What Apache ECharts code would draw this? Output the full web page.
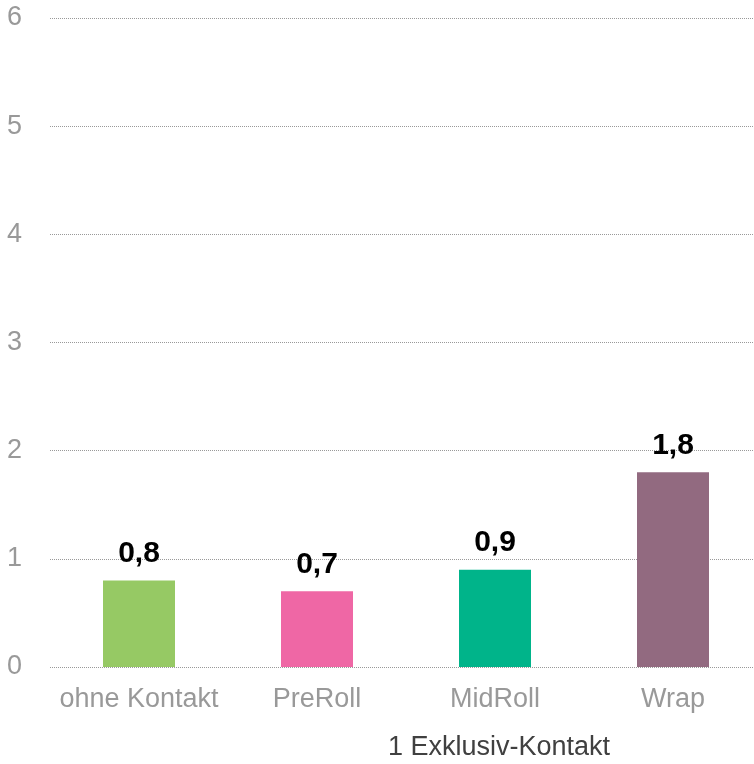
<!DOCTYPE html>
<html>
<head>
<meta charset="utf-8">
<script src="https://cdn.jsdelivr.net/npm/echarts@6/dist/echarts.min.js"></script>
<style>
  html, body { margin: 0; padding: 0; background: #fff; overflow: hidden; }
  /* Diagramm etwas breiter als das Fenster, rechter Rand wird abgeschnitten */
  #chart { width: 762px; height: 764px; }
</style>
</head>
<body>
<div id="chart"></div>
<script>
  // Kategorien und Werte
  var categories = ['ohne Kontakt', 'PreRoll', 'MidRoll', 'Wrap'];
  var values = [0.8, 0.7, 0.9, 1.8];
  var barColors = ['#96c964', '#ef67a5', '#00b48a', '#926a80'];
  var groupLabel = '1 Exklusiv-Kontakt';

  var myChart = echarts.init(document.getElementById('chart'));
  var option = {
    animation: false,
    textStyle: { fontFamily: 'Liberation Sans, Arial, sans-serif' },
    grid: { left: 50, right: 0, top: 18, bottom: 97 },
    xAxis: {
      type: 'category',
      data: categories,
      axisLine: { show: false },
      axisTick: { show: false },
      axisLabel: { color: '#999999', fontSize: 27, margin: 19, interval: 0 }
    },
    yAxis: {
      type: 'value',
      min: 0,
      max: 6,
      interval: 1,
      axisLine: { show: false },
      axisTick: { show: false },
      axisLabel: { color: '#999999', fontSize: 27, margin: 28, align: 'right' },
      splitLine: { lineStyle: { type: 'dotted', color: '#999999', width: 1 } }
    },
    graphic: [{
      type: 'text',
      left: 388,
      top: 734,
      style: { text: groupLabel, fill: '#404040', fontSize: 27, fontFamily: 'Liberation Sans, Arial, sans-serif' }
    }],
    series: [{
      type: 'bar',
      barWidth: 72,
      data: values.map(function (v, i) {
        return { value: v, itemStyle: { color: barColors[i] } };
      }),
      label: {
        show: true,
        position: 'top',
        distance: 12,
        color: '#000000',
        fontSize: 30,
        fontWeight: 'bold',
        formatter: function (p) { return String(p.value).replace('.', ','); }
      }
    }]
  };
  myChart.setOption(option, true);
</script>
</body>
</html>
